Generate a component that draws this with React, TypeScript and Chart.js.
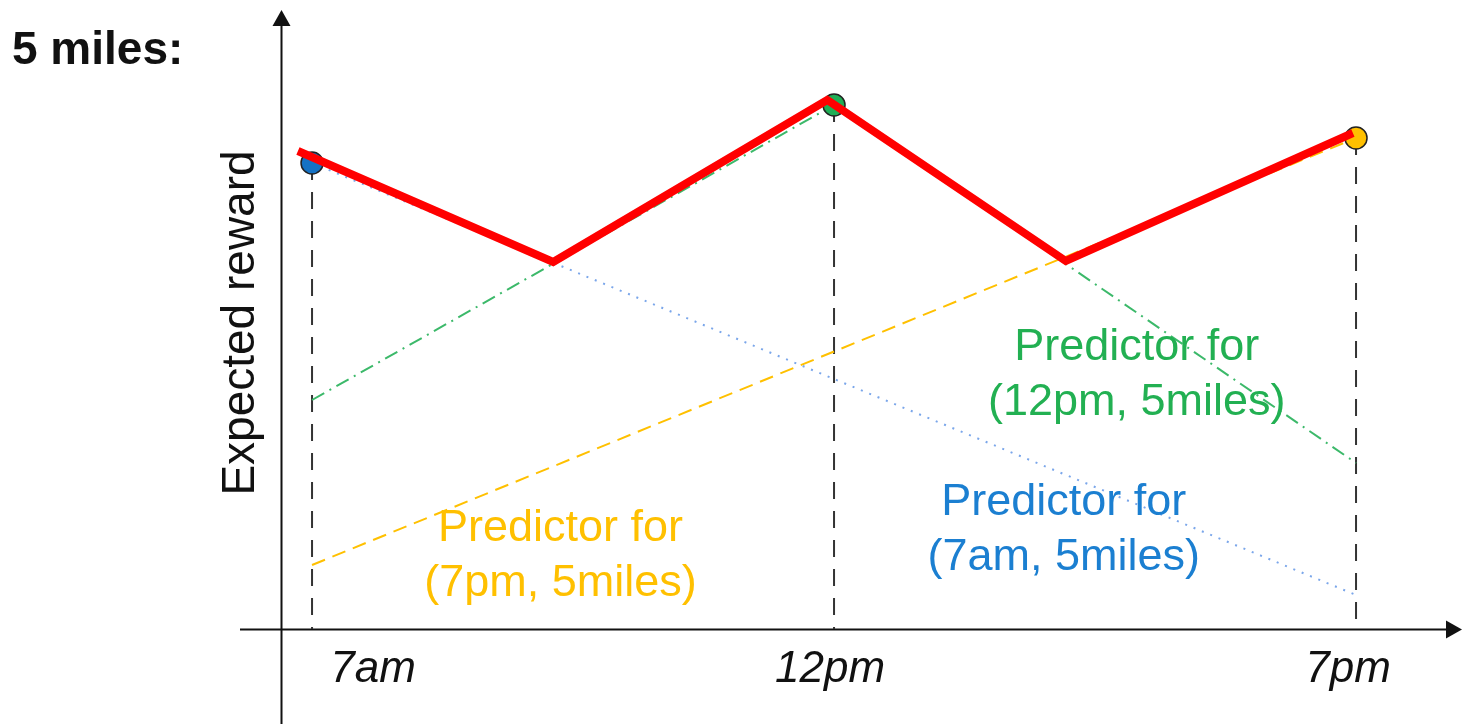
import React, { useEffect, useRef } from "react";
import { Chart, registerables } from "chart.js";

Chart.register(...registerables);

// ---- data ----
const timeLabels = ["7am", "12pm", "7pm"];
const timeValues = [0, 1, 2];
const observedReward = [46.6, 52.4, 49.1];
const bestX = [-0.027, 0.462, 0.987, 1.444, 1.994];
const bestY = [47.8, 36.7, 52.9, 36.8, 49.6];
const pred7amX = [0, 2];
const pred7amY = [46.6, 3.4];
const pred12pmX = [0, 1, 2];
const pred12pmY = [22.9, 52.4, 16.6];
const pred7pmX = [0, 2];
const pred7pmY = [6.4, 49.1];
const markerColors = ["#1572c4", "#1fae55", "#ffc000"];

const title = "5 miles:";
const yTitle = "Expected reward";
const annotations = [
  { lines: ["Predictor for", "(12pm, 5miles)"], color: "#22b052", x: 1.58, y: 26.9 },
  { lines: ["Predictor for", "(7am, 5miles)"], color: "#1b7fd1", x: 1.44, y: 11.4 },
  { lines: ["Predictor for", "(7pm, 5miles)"], color: "#ffc000", x: 0.476, y: 8.8 },
];

const FONT = "'Liberation Sans', Arial, sans-serif";

const toXY = (xs: number[], ys: number[]) => xs.map((x, i) => ({ x, y: ys[i] }));

const overlayPlugin = {
  id: "overlay",
  beforeDatasetsDraw(chart: any) {
    const ctx = chart.ctx;
    const xs = chart.scales.x;
    const ys = chart.scales.y;
    const ca = chart.chartArea;
    const axX = Math.round(xs.getPixelForValue(-0.06)) + 0.5;
    const axY = Math.round(ys.getPixelForValue(0)) + 0.5;
    ctx.save();
    ctx.strokeStyle = "#111";
    ctx.fillStyle = "#111";
    ctx.lineWidth = 2;
    // y axis
    ctx.beginPath();
    ctx.moveTo(axX, ca.bottom);
    ctx.lineTo(axX, ca.top + 12);
    ctx.stroke();
    ctx.beginPath();
    ctx.moveTo(axX, ca.top);
    ctx.lineTo(axX - 9, ca.top + 16);
    ctx.lineTo(axX + 9, ca.top + 16);
    ctx.closePath();
    ctx.fill();
    // x axis
    ctx.beginPath();
    ctx.moveTo(ca.left, axY);
    ctx.lineTo(ca.right - 12, axY);
    ctx.stroke();
    ctx.beginPath();
    ctx.moveTo(ca.right, axY);
    ctx.lineTo(ca.right - 16, axY - 9);
    ctx.lineTo(ca.right - 16, axY + 9);
    ctx.closePath();
    ctx.fill();
    ctx.restore();
  },
  afterDatasetsDraw(chart: any) {
    const ctx = chart.ctx;
    const xs = chart.scales.x;
    const ys = chart.scales.y;
    ctx.save();
    // title
    ctx.fillStyle = "#111";
    ctx.font = `bold 46px ${FONT}`;
    ctx.textAlign = "left";
    ctx.textBaseline = "alphabetic";
    ctx.fillText(title, 12, 64);
    // y title
    ctx.save();
    ctx.translate(254, 323);
    ctx.rotate(-Math.PI / 2);
    ctx.font = `46px ${FONT}`;
    ctx.textAlign = "center";
    ctx.fillText(yTitle, 0, 0);
    ctx.restore();
    // tick labels
    const tickShift = [61, -4, -8];
    ctx.font = `italic 44px ${FONT}`;
    ctx.textAlign = "center";
    timeLabels.forEach((t, i) => {
      ctx.fillText(t, xs.getPixelForValue(timeValues[i]) + tickShift[i], 682);
    });
    // annotations
    ctx.font = `45px ${FONT}`;
    annotations.forEach((a) => {
      ctx.fillStyle = a.color;
      const px = xs.getPixelForValue(a.x);
      const py = ys.getPixelForValue(a.y);
      a.lines.forEach((l, i) => ctx.fillText(l, px, py + i * 55));
    });
    ctx.restore();
  },
};

export default function App() {
  const ref = useRef<HTMLCanvasElement | null>(null);
  useEffect(() => {
    document.body.style.margin = "0";
    if (!ref.current) return;
    const dropLines = timeValues.map((x, i) => ({
      type: "line" as const,
      data: [
        { x, y: observedReward[i] },
        { x, y: 0 },
      ],
      borderColor: "#333",
      borderWidth: 2,
      borderDash: [17, 12],
      pointRadius: 0,
      order: 10,
    }));
    const chart = new Chart(ref.current, {
      type: "line",
      data: {
        datasets: [
          {
            data: toXY(bestX, bestY),
            borderColor: "#ff0000",
            borderWidth: 8,
            pointRadius: 0,
            order: 1,
          },
          {
            data: toXY(timeValues, observedReward),
            showLine: false,
            pointRadius: 11,
            pointBackgroundColor: markerColors,
            pointBorderColor: "#222",
            pointBorderWidth: 1.5,
            order: 2,
          },
          {
            data: toXY(pred7amX, pred7amY),
            borderColor: "#7aa6ea",
            borderWidth: 2,
            borderDash: [2, 7],
            pointRadius: 0,
            order: 5,
          },
          {
            data: toXY(pred12pmX, pred12pmY),
            borderColor: "#3cb96a",
            borderWidth: 2,
            borderDash: [14, 6, 2, 6],
            pointRadius: 0,
            order: 5,
          },
          {
            data: toXY(pred7pmX, pred7pmY),
            borderColor: "#ffc000",
            borderWidth: 2,
            borderDash: [14, 8],
            pointRadius: 0,
            order: 5,
          },
          ...dropLines,
        ] as any,
      },
      options: {
        responsive: false,
        animation: false,
        devicePixelRatio: 1,
        layout: { autoPadding: false, padding: { left: 240, right: 2, top: 10, bottom: 0 } },
        plugins: { legend: { display: false }, tooltip: { enabled: false } },
        scales: {
          x: { type: "linear", min: -0.138, max: 2.203, display: false },
          y: { type: "linear", min: -9.5, max: 61.9, display: false },
        },
        elements: { line: { tension: 0 } },
      },
      plugins: [overlayPlugin],
    });
    return () => chart.destroy();
  }, []);
  return (
    <div style={{ position: "absolute", left: 0, top: 0, width: 1464, height: 724, background: "#fff" }}>
      <canvas ref={ref} width={1464} height={724} style={{ width: 1464, height: 724 }} />
    </div>
  );
}
